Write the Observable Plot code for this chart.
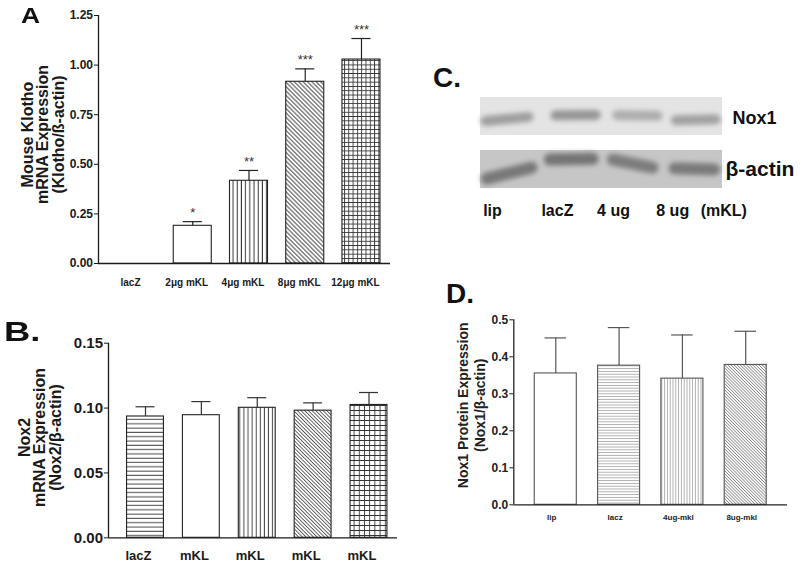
<!DOCTYPE html>
<html><head><meta charset="utf-8">
<script src="https://cdn.jsdelivr.net/npm/d3@7"></script>
<script src="https://cdn.jsdelivr.net/npm/@observablehq/plot@0.6"></script>
<style>
body{margin:0;background:#fff;font-family:"Liberation Sans",Arial,Helvetica,sans-serif;}
#root{position:relative;width:800px;height:576px;overflow:hidden;background:#fff;}
.panel{position:absolute;}
.letter{position:absolute;font-weight:bold;font-size:28px;line-height:1;color:#111;transform-origin:left top;white-space:nowrap;}
</style></head><body>
<svg width="0" height="0" style="position:absolute">
<defs>
  <pattern id="pA-v" patternUnits="userSpaceOnUse" width="4.2" height="8"><rect width="4.2" height="8" fill="#fff"/><line x1="2" y1="0" x2="2" y2="8" stroke="#333" stroke-width="1"/></pattern>
  <pattern id="pA-d" patternUnits="userSpaceOnUse" width="3.1" height="8" patternTransform="rotate(-45)"><rect width="3.1" height="8" fill="#fff"/><line x1="1.5" y1="0" x2="1.5" y2="8" stroke="#333" stroke-width="0.9"/></pattern>
  <pattern id="pA-g" patternUnits="userSpaceOnUse" width="4.3" height="4.3"><rect width="4.3" height="4.3" fill="#fff"/><path d="M0.5 0V4.3M0 0.5H4.3" stroke="#333" stroke-width="0.9"/></pattern>
  <pattern id="pB-h" patternUnits="userSpaceOnUse" width="8" height="4.3"><rect width="8" height="4.3" fill="#fff"/><line x1="0" y1="2" x2="8" y2="2" stroke="#444" stroke-width="1"/></pattern>
  <pattern id="pB-v" patternUnits="userSpaceOnUse" width="4.1" height="8"><rect width="4.1" height="8" fill="#fff"/><line x1="2" y1="0" x2="2" y2="8" stroke="#444" stroke-width="1"/></pattern>
  <pattern id="pB-d" patternUnits="userSpaceOnUse" width="2.6" height="8" patternTransform="rotate(-45)"><rect width="2.6" height="8" fill="#fff"/><line x1="1.3" y1="0" x2="1.3" y2="8" stroke="#333" stroke-width="0.8"/></pattern>
  <pattern id="pB-g" patternUnits="userSpaceOnUse" width="5.2" height="5" ><rect width="5.2" height="5" fill="#fff"/><path d="M0.5 0V5M0 0.5H5.2" stroke="#333" stroke-width="0.9"/></pattern>
  <pattern id="pD-h" patternUnits="userSpaceOnUse" width="8" height="2.8"><rect width="8" height="2.8" fill="#fff"/><line x1="0" y1="1.4" x2="8" y2="1.4" stroke="#999" stroke-width="0.8"/></pattern>
  <pattern id="pD-v" patternUnits="userSpaceOnUse" width="2.8" height="8"><rect width="2.8" height="8" fill="#fff"/><line x1="1.4" y1="0" x2="1.4" y2="8" stroke="#999" stroke-width="0.8"/></pattern>
  <pattern id="pD-d" patternUnits="userSpaceOnUse" width="2.2" height="8" patternTransform="rotate(-45)"><rect width="2.2" height="8" fill="#fff"/><line x1="1.1" y1="0" x2="1.1" y2="8" stroke="#888" stroke-width="0.8"/></pattern>
  <filter id="blot-blur" x="-20%" y="-60%" width="140%" height="220%"><feGaussianBlur stdDeviation="2.8"/></filter>
</defs></svg>
<div id="root"></div>
<script>
// ---------- Panel A: Mouse Klotho mRNA ----------
const aLabels = ["lacZ", "2μg mKL", "4μg mKL", "8μg mKL", "12μg mKL"];
const aMean   = [0, 0.19, 0.417, 0.916, 1.028];
const aSem    = [0, 0.021, 0.052, 0.065, 0.106];
const aSig    = ["", "*", "**", "***", "***"];
const aTicks  = [0, 0.25, 0.5, 0.75, 1.0, 1.25];
const aTitle  = "Mouse Klotho\nmRNA Expression\n(Klotho/ß-actin)";

// ---------- Panel B: Nox2 mRNA ----------
const bLabels = ["lacZ", "mKL", "mKL", "mKL", "mKL"];
const bMean   = [0.0935, 0.0945, 0.1002, 0.098, 0.1024];
const bSem    = [0.0075, 0.0105, 0.0078, 0.006, 0.0096];
const bTicks  = [0, 0.05, 0.10, 0.15];
const bTitle  = "Nox2\nmRNA Expression\n(Nox2/β-actin)";

// ---------- Panel C: western blot ----------
const cRows      = ["Nox1", "β-actin"];
const cLanes     = ["lip", "lacZ", "4 ug", "8 ug", "(mKL)"];
const cLanePos   = [-0.23, 0.80, 1.69, 2.63, 3.44];
const cStrip     = [-0.42, 3.42];
// band extent (lane units), position within strip (0 top .. 1 bottom), density
const cBands = [
  {row: "Nox1",    x1: -0.34, x2: 0.34, y1: 0.62, y2: 0.51, density: 0.38},
  {row: "Nox1",    x1: 0.77,  x2: 1.41, y1: 0.47, y2: 0.46, density: 0.41},
  {row: "Nox1",    x1: 1.75,  x2: 2.39, y1: 0.47, y2: 0.48, density: 0.32},
  {row: "Nox1",    x1: 2.68,  x2: 3.31, y1: 0.60, y2: 0.57, density: 0.37},
  {row: "β-actin", x1: -0.32, x2: 0.39, y1: 0.74, y2: 0.45, density: 0.53},
  {row: "β-actin", x1: 0.68,  x2: 1.36, y1: 0.24, y2: 0.22, density: 0.54},
  {row: "β-actin", x1: 1.68,  x2: 2.31, y1: 0.24, y2: 0.45, density: 0.51},
  {row: "β-actin", x1: 2.66,  x2: 3.29, y1: 0.47, y2: 0.50, density: 0.52}
];

// ---------- Panel D: Nox1 protein ----------
const dLabels = ["lip", "lacz", "4ug-mkl", "8ug-mkl"];
const dMean   = [0.355, 0.376, 0.341, 0.378];
const dSem    = [0.096, 0.103, 0.118, 0.091];
const dTicks  = [0, 0.1, 0.2, 0.3, 0.4, 0.5];
const dTitle  = "Nox1 Protein Expression\n(Nox1/β-actin)";

// ---------- styles ----------
const FONT = '"Liberation Sans", Arial, Helvetica, sans-serif';
const fillsA = ["#fff", "#fff", "url(#pA-v)", "url(#pA-d)", "url(#pA-g)"];
const fillsB = ["url(#pB-h)", "#fff", "url(#pB-v)", "url(#pB-d)", "url(#pB-g)"];
const fillsD = ["#fff", "url(#pD-h)", "url(#pD-v)", "url(#pD-d)"];
const rowStyle = {
  "Nox1":    {bg: "#e4e4e4", thick: 10, font: 18, dx: 10},
  "β-actin": {bg: "#c6c6c6", thick: 12, font: 21, dx: 3}
};

const root = document.getElementById("root");
function place(el, left, top) {
  const d = document.createElement("div");
  d.className = "panel";
  d.style.left = left + "px";
  d.style.top = top + "px";
  d.appendChild(el);
  root.appendChild(d);
  return d;
}
function letter(txt, left, top, size, sx) {
  const d = document.createElement("div");
  d.className = "letter";
  d.textContent = txt;
  d.style.left = left + "px";
  d.style.top = top + "px";
  d.style.fontSize = size + "px";
  if (sx) d.style.transform = `scaleX(${sx})`;
  root.appendChild(d);
}

function barPanel(c) {
  const data = c.labels.map((label, i) => ({i, label, mean: c.mean[i], sem: c.sem[i], sig: c.sig ? c.sig[i] : "", fill: c.fills[i]}));
  const withErr = data.filter(d => d.sem > 0);
  return Plot.plot({
    width: c.width, height: c.height,
    marginLeft: c.ml, marginRight: c.mr, marginTop: c.mt, marginBottom: c.mb,
    x: {domain: c.xDomain, axis: null},
    y: {domain: [0, c.ticks[c.ticks.length - 1]], label: null},
    color: {type: "identity"},
    style: {background: "transparent", fontFamily: FONT, fontWeight: "bold", color: c.ink, overflow: "hidden"},
    marks: [
      Plot.rect(data.filter(d => d.mean > 0), {x1: d => d.i - c.half, x2: d => d.i + c.half, y1: 0, y2: "mean", fill: "fill", stroke: c.barStroke, strokeWidth: 1.1}),
      Plot.ruleX(withErr, {x: "i", y1: "mean", y2: d => d.mean + d.sem, stroke: c.errStroke, strokeWidth: 1.2}),
      Plot.ruleY(withErr, {y: d => d.mean + d.sem, x1: d => d.i - c.cap, x2: d => d.i + c.cap, stroke: c.errStroke, strokeWidth: 1.2}),
      c.sig ? Plot.text(withErr, {x: "i", y: d => d.mean + d.sem, text: "sig", dy: -9, fontSize: 13, fill: "#333", fontWeight: "normal"}) : null,
      Plot.ruleY([0], {stroke: c.ink, strokeWidth: 1.3}),
      Plot.ruleX([c.xDomain[0]], {stroke: c.ink, strokeWidth: 1.3}),
      Plot.axisY(c.ticks, {tickFormat: c.fmt, tickSize: 4, tickPadding: 1.5, fontSize: c.tickFont, label: null}),
      Plot.text(data, {x: "i", y: () => 0, text: "label", textAnchor: "middle", dx: c.labelDx, dy: c.labelPad, fontSize: c.labelFont}),
      Plot.text([c.title], {text: d => d, frameAnchor: "left", rotate: -90, textAnchor: "middle", dx: c.titleDx, dy: c.titleDy, fontSize: c.titleFont, lineHeight: c.titleLH})
    ]
  });
}

place(barPanel({
  labels: aLabels, mean: aMean, sem: aSem, sig: aSig, ticks: aTicks, fmt: d3.format(".2f"), fills: fillsA,
  width: 400, height: 313, ml: 98, mr: 10, mt: 15, mb: 50,
  xDomain: [-0.676, 4.516], half: 0.338, cap: 0.17,
  ink: "#1a1a1a", barStroke: "#222", errStroke: "#222",
  tickFont: 12, labelFont: 10, labelPad: 19, labelDx: -6,
  title: aTitle, titleDx: -55, titleDy: -5, titleFont: 16, titleLH: 0.95
}), 0, 0);

place(barPanel({
  labels: bLabels, mean: bMean, sem: bSem, sig: null, ticks: bTicks, fmt: d3.format(".2f"), fills: fillsB,
  width: 410, height: 266, ml: 108, mr: 13, mt: 32.7, mb: 38.7,
  xDomain: [-0.662, 4.51], half: 0.33, cap: 0.17,
  ink: "#1a1a1a", barStroke: "#222", errStroke: "#333",
  tickFont: 15, labelFont: 13, labelPad: 18, labelDx: -7,
  title: bTitle, titleDx: -68, titleDy: -3, titleFont: 16, titleLH: 0.95
}), 0, 310);

place(barPanel({
  labels: dLabels, mean: dMean, sem: dSem, sig: null, ticks: dTicks, fmt: d3.format(".1f"), fills: fillsD,
  width: 400, height: 276, ml: 113.3, mr: 13, mt: 19.3, mb: 71.7,
  xDomain: [-0.663, 3.66], half: 0.332, cap: 0.17,
  ink: "#222", barStroke: "#555", errStroke: "#555",
  tickFont: 12, labelFont: 8, labelPad: 13, labelDx: -4,
  title: dTitle, titleDx: -43, titleDy: -7, titleFont: 14, titleLH: 1.2
}), 400, 300);

const blot = Plot.plot({
  width: 380, height: 180,
  marginLeft: 60, marginRight: 78, marginTop: 36.7, marginBottom: 50.7,
  x: {domain: cStrip, axis: null},
  y: {domain: [0, 1], reverse: true, axis: null},
  fy: {domain: cRows, paddingInner: 0.274, paddingOuter: 0, axis: null},
  style: {background: "transparent", fontFamily: FONT, fontWeight: "bold", color: "#111", overflow: "visible"},
  marks: [
    Plot.rect(cRows, {fy: d => d, x1: cStrip[0], x2: cStrip[1], y1: 0, y2: 1, fill: d => rowStyle[d].bg}),
    Plot.link(cBands, {fy: "row", x1: "x1", x2: "x2", y1: "y1", y2: "y2",
      stroke: d => d3.interpolateRgb("#ffffff", "#000000")(d.density),
      strokeWidth: d => rowStyle[d.row].thick, strokeLinecap: "round"}),
    Plot.text([cRows[0]], {fy: d => d, text: d => d, frameAnchor: "right", textAnchor: "start", dx: rowStyle[cRows[0]].dx, dy: 2, fontSize: rowStyle[cRows[0]].font}),
    Plot.text([cRows[1]], {fy: d => d, text: d => d, frameAnchor: "right", textAnchor: "start", dx: rowStyle[cRows[1]].dx, fontSize: rowStyle[cRows[1]].font}),
    Plot.text(cLanes.map((label, i) => ({label, pos: cLanePos[i]})), {fy: () => cRows[1], x: "pos", text: "label", frameAnchor: "bottom", dy: 27, fontSize: 16})
  ]
});
blot.querySelectorAll('g[aria-label="link"]').forEach(g => g.setAttribute("filter", "url(#blot-blur)"));
place(blot, 420, 60);

letter("A", 21, 5, 22, 1.2);
letter("B.", 4, 318, 28, 1.3);
letter("C.", 433, 64.3, 28);
letter("D.", 446, 279.6, 28);
</script>
</body></html>
